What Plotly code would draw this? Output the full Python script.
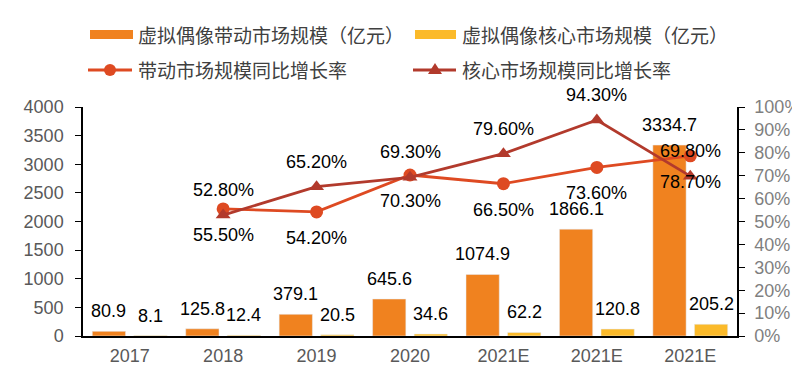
import plotly.graph_objects as go

# ---------------- data ----------------
categories = ["2017", "2018", "2019", "2020", "2021E", "2021E", "2021E"]
drive_market = [80.9, 125.8, 379.1, 645.6, 1074.9, 1866.1, 3334.7]      # 带动市场规模（亿元）
core_market = [8.1, 12.4, 20.5, 34.6, 62.2, 120.8, 205.2]               # 核心市场规模（亿元）
growth_categories_idx = [1, 2, 3, 4, 5, 6]
drive_growth = [55.5, 54.2, 70.3, 66.5, 73.6, 78.7]                      # 带动市场规模同比增长率 (%)
core_growth = [52.8, 65.2, 69.3, 79.6, 94.3, 69.8]                       # 核心市场规模同比增长率 (%)
left_ticks = [0, 500, 1000, 1500, 2000, 2500, 3000, 3500, 4000]
right_ticks = [i / 10 for i in range(11)]

names = ["虚拟偶像带动市场规模（亿元）", "虚拟偶像核心市场规模（亿元）",
         "带动市场规模同比增长率", "核心市场规模同比增长率"]

# ---------------- style ----------------
C_ORANGE = "#F0821F"
C_YELLOW = "#FBBA2A"
C_RED = "#DE4A22"
C_DARKRED = "#B23A2C"
NUM_FONT = "Liberation Sans, Arial, sans-serif"
CJK_FONT = "Noto Sans CJK SC, sans-serif"

# window layout (page body has an 8px default margin)
BODY = 8
WIN_W, WIN_H = 800, 366
PLOT_L, PLOT_R, PLOT_T, PLOT_B = 83, 737, 107, 336   # plot area in window pixels
W, H = WIN_W - BODY, WIN_H - BODY
ML, MT = PLOT_L - BODY, PLOT_T - BODY
MR, MB = WIN_W - PLOT_R, WIN_H - PLOT_B
PW, PH = PLOT_R - PLOT_L, PLOT_B - PLOT_T


def px2x(px):
    return (px - PLOT_L) / PW


def px2y(py):
    return (PLOT_B - py) / PH


x = list(range(len(categories)))
gx = [x[i] for i in growth_categories_idx]

fig = go.Figure()
fig.add_trace(go.Bar(x=x, y=drive_market, name=names[0], marker_color=C_ORANGE,
                     offsetgroup="a", showlegend=False))
fig.add_trace(go.Bar(x=x, y=core_market, name=names[1], marker_color=C_YELLOW,
                     offsetgroup="b", showlegend=False))
fig.add_trace(go.Scatter(x=gx, y=[v / 100 for v in drive_growth], name=names[2],
                         mode="lines+markers", yaxis="y2",
                         line=dict(color=C_RED, width=2.8),
                         marker=dict(symbol="circle", size=13, color=C_RED),
                         showlegend=False))
fig.add_trace(go.Scatter(x=gx, y=[v / 100 for v in core_growth], name=names[3],
                         mode="lines+markers", yaxis="y2",
                         line=dict(color=C_DARKRED, width=2.8),
                         marker=dict(symbol="triangle-up", size=13, color=C_DARKRED),
                         showlegend=False))

annotations = []
BAR_OFF = 0.222
for xi, v in zip(x, drive_market):
    annotations.append(dict(x=xi - BAR_OFF, y=v, xref="x", yref="y", text=f"{v:.1f}",
                            showarrow=False, yshift=20, yanchor="middle",
                            font=dict(family=NUM_FONT, size=18, color="#000000")))
for xi, v in zip(x, core_market):
    annotations.append(dict(x=xi + BAR_OFF, y=v, xref="x", yref="y", text=f"{v:.1f}",
                            showarrow=False, yshift=20, yanchor="middle",
                            font=dict(family=NUM_FONT, size=18, color="#000000")))
for xi, v in zip(gx, core_growth):
    annotations.append(dict(x=xi, y=v / 100, xref="x", yref="y2", text=f"{v:.2f}%",
                            showarrow=False, yshift=25, yanchor="middle",
                            font=dict(family=NUM_FONT, size=18, color="#000000")))
for xi, v in zip(gx, drive_growth):
    annotations.append(dict(x=xi, y=v / 100, xref="x", yref="y2", text=f"{v:.2f}%",
                            showarrow=False, yshift=-26, yanchor="middle",
                            font=dict(family=NUM_FONT, size=18, color="#000000")))

# ---------------- manual legend ----------------
shapes = []
LEG_FONT = dict(family=CJK_FONT, size=19, color="#404040")
row1, row2 = 34.5, 70
col1_sym, col2_sym = (90, 133), (415, 456)
col1_txt, col2_txt = 136, 460

shapes.append(dict(type="rect", xref="paper", yref="paper", x0=px2x(col1_sym[0]), x1=px2x(col1_sym[1]),
                   y0=px2y(row1 + 4.5), y1=px2y(row1 - 4.5), fillcolor=C_ORANGE, line_width=0))
shapes.append(dict(type="rect", xref="paper", yref="paper", x0=px2x(col2_sym[0]), x1=px2x(col2_sym[1]),
                   y0=px2y(row1 + 4.5), y1=px2y(row1 - 4.5), fillcolor=C_YELLOW, line_width=0))
shapes.append(dict(type="line", xref="paper", yref="paper", x0=px2x(88), x1=px2x(132),
                   y0=px2y(row2), y1=px2y(row2), line=dict(color=C_RED, width=3)))
shapes.append(dict(type="circle", xref="paper", yref="paper", xsizemode="pixel", ysizemode="pixel",
                   xanchor=px2x(110), yanchor=px2y(row2), x0=-6, x1=6, y0=-6, y1=6,
                   fillcolor=C_RED, line_width=0))
shapes.append(dict(type="line", xref="paper", yref="paper", x0=px2x(413), x1=px2x(456),
                   y0=px2y(row2), y1=px2y(row2), line=dict(color=C_DARKRED, width=3)))
shapes.append(dict(type="path", xref="paper", yref="paper", xsizemode="pixel", ysizemode="pixel",
                   xanchor=px2x(435), yanchor=px2y(row2), path="M -7 -4 L 7 -4 L 0 7 Z",
                   fillcolor=C_DARKRED, line_width=0))

for txt, px, py in [(names[0], col1_txt, row1), (names[1], col2_txt, row1),
                    (names[2], col1_txt, row2), (names[3], col2_txt, row2)]:
    annotations.append(dict(x=px2x(px), y=px2y(py), xref="paper", yref="paper", text=txt,
                            showarrow=False, xanchor="left", yanchor="middle", font=LEG_FONT))

fig.update_layout(
    width=W, height=H,
    margin=dict(l=ML, r=MR, t=MT, b=MB, autoexpand=False),
    paper_bgcolor="white", plot_bgcolor="white",
    barmode="group", bargap=0.11, bargroupgap=0.2,
    showlegend=False,
    annotations=annotations, shapes=shapes,
    xaxis=dict(range=[-0.5, len(categories) - 0.5], tickvals=x, ticktext=categories,
               automargin=False,
               showgrid=False, zeroline=False, showline=True, linecolor="#000000", linewidth=1.5,
               ticks="", ticklabelstandoff=3,
               tickfont=dict(family=NUM_FONT, size=18, color="#595959")),
    yaxis=dict(range=[0, 4000], tickvals=left_ticks, showgrid=False, zeroline=False,
               automargin=False,
               showline=True, linecolor="#000000", linewidth=1.5,
               ticks="outside", ticklen=6, tickcolor="#000000", ticklabelstandoff=8,
               tickfont=dict(family=NUM_FONT, size=18, color="#595959")),
    yaxis2=dict(range=[0, 1], tickvals=right_ticks, tickformat=".0%", overlaying="y", side="right",
                automargin=False,
                showgrid=False, zeroline=False, showline=True, linecolor="#000000", linewidth=1.5,
                ticks="outside", ticklen=6, tickcolor="#000000", ticklabelstandoff=6,
                tickfont=dict(family=NUM_FONT, size=18, color="#7F7F7F")),
)

fig.write_html("out.html")
